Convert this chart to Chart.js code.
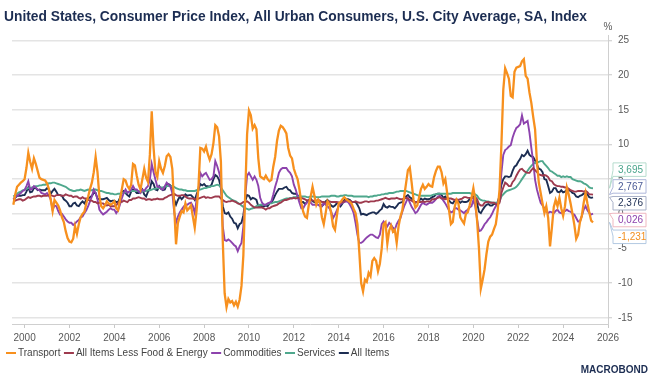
<!DOCTYPE html>
<html><head><meta charset="utf-8">
<script src="https://cdn.jsdelivr.net/npm/chart.js@4.4.1/dist/chart.umd.min.js"></script>
<style>html,body{margin:0;padding:0;background:#fff}canvas{display:block}</style>
</head><body>
<canvas id="c" width="652" height="381"></canvas>
<script>
// ---- data (monthly, year-on-year %, starting Jul 1999) ----
const startYear = 1999, startMonth = 7;
const seriesNames = ["Transport", "All Items Less Food & Energy", "Commodities", "Services", "All Items"];
const transport = [
 1.3, 2.8, 3.9, 4.2, 4.5, 4.7,
 5.0, 6.6, 8.8, 7.5, 6.5, 8.0, 7.2, 6.2, 5.2, 5.0, 4.9, 4.8,
 4.4, 3.6, 2.0, 0.4, 2.0, 1.6, 1.2, 0.5, -0.5, -1.2, -2.5, -3.5,
 -4.0, -4.1, -3.6, -1.8, -2.9, -1.5, -0.5, 0.0, 0.3, 1.5, 2.5, 3.6,
 4.5, 6.0, 8.2, 6.0, 2.5, 1.1, 0.8, 1.2, 1.8, 1.5, 1.3, 1.5,
 1.8, 0.8, 0.5, 2.0, 3.5, 5.0, 4.8, 4.0, 3.6, 4.2, 7.2, 7.0,
 5.5, 4.2, 3.5, 5.0, 6.5, 5.2, 4.6, 8.5, 14.8, 9.5, 6.0, 5.3,
 7.6, 6.5, 5.9, 6.9, 8.3, 8.6, 8.2, 6.5, 1.0, -4.4, -1.3, -0.4,
 0.4, 0.2, 1.5, 0.5, 0.8, 1.2, -0.4, -2.0, 0.5, 4.0, 9.5, 9.4,
 9.0, 9.7, 8.6, 7.8, 8.6, 10.2, 12.8, 12.5, 11.2, 7.5, -4.0, -11.5,
 -13.5, -12.3, -12.8, -12.6, -13.2, -12.7, -13.4, -12.4, -10.4, -6.0, 3.0, 11.5,
 14.9, 14.2, 12.3, 12.8, 12.2, 8.0, 5.4, 5.2, 5.0, 5.5, 5.0, 4.7,
 4.9, 6.8, 8.2, 10.5, 12.0, 12.7, 12.5, 12.1, 11.6, 9.5, 8.4, 8.0,
 6.5, 5.7, 5.0, 3.5, 1.6, 0.3, -0.4, -0.6, 1.3, 2.5, 3.9, 2.6,
 1.3, 2.0, 1.6, -0.5, -1.5, 0.1, 1.8, 1.4, 0.0, -1.8, -2.3, -0.3,
 1.5, 1.7, 2.1, 2.4, 2.1, 1.9, 1.7, 1.4, 0.7, 0.1, -1.5, -5.5,
 -10.0, -11.2, -9.5, -9.8, -8.5, -9.0, -6.8, -6.4, -6.8, -8.3, -7.2, -5.0,
 -1.5, -1.2, -4.3, -2.4, -1.7, -2.6, -2.3, -4.2, -1.8, -0.4, 0.5, 2.5,
 4.4, 6.3, 6.7, 4.5, 2.0, 0.9, 1.2, 2.4, 3.6, 4.2, 3.6, 3.9,
 4.3, 4.0, 3.9, 5.3, 6.2, 6.8, 6.8, 6.0, 4.4, 5.0, 3.0, 0.5,
 -1.5, -1.2, 1.0, 2.0, 1.5, -0.5, -1.0, -1.4, 0.0, 0.2, 1.2, 2.3,
 3.7, 2.0, -1.0, -5.0, -10.8, -9.5, -8.0, -5.8, -4.0, -3.3, -3.0, -2.2,
 -1.5, 0.5, 3.5, 10.0, 17.9, 21.0, 20.3, 19.5, 17.0, 16.8, 20.5, 21.1,
 21.2, 21.3, 22.0, 22.3, 19.9, 19.5, 17.5, 16.0, 14.0, 12.2, 7.5, 4.5,
 3.0, 1.5, 0.1, 1.1, -0.6, -4.7, -2.0, 1.0, 2.0, 1.1, 2.3, 0.8,
 -0.3, 1.1, 3.8, 2.8, 1.5, 0.0, -1.6, -3.6, -3.0, -1.2, -0.3, 1.6,
 3.0, 1.5, 0.2, -1.0, -1.231
];
const coreItems = [
 2.1, 1.9, 2.0, 2.1, 2.1, 1.9,
 2.0, 2.2, 2.4, 2.3, 2.4, 2.5, 2.5, 2.6, 2.6, 2.5, 2.6, 2.6,
 2.6, 2.7, 2.7, 2.6, 2.5, 2.7, 2.7, 2.7, 2.6, 2.6, 2.8, 2.7,
 2.6, 2.6, 2.4, 2.5, 2.5, 2.3, 2.2, 2.4, 2.2, 2.2, 2.0, 1.9,
 1.9, 1.7, 1.7, 1.5, 1.6, 1.5, 1.5, 1.3, 1.2, 1.3, 1.1, 1.1,
 1.1, 1.2, 1.6, 1.8, 1.7, 1.9, 1.8, 1.7, 2.0, 2.0, 2.2, 2.2,
 2.3, 2.4, 2.3, 2.2, 2.2, 2.0, 2.1, 2.1, 2.0, 2.1, 2.1, 2.2,
 2.1, 2.1, 2.1, 2.3, 2.4, 2.6, 2.7, 2.8, 2.9, 2.7, 2.6, 2.6,
 2.7, 2.7, 2.5, 2.3, 2.2, 2.2, 2.2, 2.1, 2.1, 2.2, 2.3, 2.4,
 2.5, 2.3, 2.4, 2.3, 2.3, 2.4, 2.5, 2.5, 2.5, 2.2, 2.0, 1.8,
 1.7, 1.8, 1.8, 1.9, 1.8, 1.7, 1.5, 1.4, 1.5, 1.7, 1.7, 1.8,
 1.6, 1.3, 1.1, 0.9, 0.9, 0.9, 0.9, 0.9, 0.8, 0.6, 0.8, 0.8,
 1.0, 1.1, 1.2, 1.3, 1.5, 1.6, 1.8, 2.0, 2.0, 2.1, 2.2, 2.2,
 2.3, 2.2, 2.3, 2.3, 2.3, 2.2, 2.1, 1.9, 2.0, 2.0, 1.9, 1.9,
 1.9, 2.0, 1.9, 1.7, 1.7, 1.6, 1.7, 1.8, 1.7, 1.7, 1.7, 1.7,
 1.6, 1.6, 1.7, 1.8, 2.0, 1.9, 1.9, 1.7, 1.7, 1.8, 1.7, 1.6,
 1.6, 1.7, 1.8, 1.8, 1.7, 1.8, 1.8, 1.8, 1.9, 1.9, 2.0, 2.1,
 2.2, 2.3, 2.2, 2.1, 2.2, 2.2, 2.2, 2.3, 2.2, 2.1, 2.1, 2.2,
 2.3, 2.2, 2.0, 1.9, 1.7, 1.7, 1.7, 1.7, 1.7, 1.8, 1.7, 1.8,
 1.8, 1.8, 2.1, 2.1, 2.2, 2.3, 2.4, 2.2, 2.2, 2.1, 2.2, 2.2,
 2.2, 2.1, 2.0, 2.1, 2.0, 2.1, 2.2, 2.4, 2.4, 2.3, 2.3, 2.3,
 2.3, 2.4, 2.1, 1.4, 1.2, 1.2, 1.6, 1.7, 1.7, 1.6, 1.6, 1.6,
 1.4, 1.3, 1.6, 3.0, 3.8, 4.5, 4.3, 4.0, 4.0, 4.6, 4.9, 5.5,
 6.0, 6.4, 6.5, 6.2, 6.0, 5.9, 5.9, 6.3, 6.6, 6.3, 6.0, 5.7,
 5.6, 5.5, 5.6, 5.5, 5.3, 4.8, 4.7, 4.3, 4.1, 4.0, 4.0, 3.9,
 3.9, 3.8, 3.8, 3.6, 3.4, 3.3, 3.2, 3.2, 3.3, 3.3, 3.3, 3.2,
 3.3, 3.1, 2.8, 2.8, 2.767
];
const commodities = [
 2.1, 2.4, 2.6, 2.8, 3.0, 3.3,
 3.4, 4.0, 4.7, 3.5, 3.6, 4.0, 3.8, 3.5, 3.4, 3.0, 2.9, 2.8,
 3.0, 2.6, 2.1, 0.6, 1.2, 1.1, 0.4, -0.1, 0.0, -0.4, -0.8, -1.1,
 -1.3, -1.3, -1.6, -1.4, -1.1, -0.9, -0.5, -0.4, 0.1, 0.5, 1.1, 1.8,
 2.5, 3.5, 3.0, 2.1, 0.6, 0.2, -0.1, 0.1, 0.3, 0.6, 0.8, 0.6,
 0.6, 0.1, 0.5, 1.3, 2.2, 3.0, 3.5, 3.0, 3.2, 3.5, 4.0, 3.5,
 3.5, 3.2, 3.0, 3.5, 3.3, 3.7, 4.0, 4.9, 7.2, 6.0, 4.9, 3.9,
 3.9, 3.6, 3.5, 4.0, 4.5, 4.2, 3.9, 3.0, 0.3, -1.3, -0.4, 0.2,
 0.6, 1.0, 1.3, 1.3, 1.5, 1.6, 1.1, 0.1, 2.0, 3.5, 5.9, 5.4,
 5.7, 5.9, 5.4, 4.9, 5.0, 5.4, 7.6, 6.9, 6.0, 4.9, -1.8, -3.8,
 -3.9, -3.7, -3.9, -4.2, -4.5, -4.7, -5.4, -4.7, -4.2, -1.8, 2.5, 5.5,
 5.9, 5.4, 4.9, 5.4, 4.9, 4.0, 2.3, 1.6, 1.3, 1.3, 1.5, 1.6,
 1.8, 2.8, 3.9, 4.8, 5.9, 6.4, 6.6, 6.6, 6.6, 6.2, 5.9, 5.4,
 4.2, 3.5, 2.5, 1.6, 0.8, 0.8, 1.3, 1.6, 2.0, 1.6, 1.3, 1.3,
 1.3, 1.3, 1.1, 1.1, 1.6, 1.3, 1.1, 0.8, 0.3, -0.6, -0.1, 0.5,
 1.1, 1.4, 1.6, 1.7, 1.8, 1.7, 1.3, 0.8, 0.1, -1.3, -3.0, -4.2,
 -4.2, -4.0, -3.7, -3.4, -3.2, -3.0, -3.0, -3.2, -3.4, -3.5, -3.0, -1.5,
 -1.1, -1.5, -1.8, -1.3, -1.6, -2.0, -2.3, -1.5, -1.0, -0.6, 0.3, 1.1,
 1.7, 2.3, 1.6, 1.0, 0.6, 0.1, 0.3, 0.8, 1.3, 1.6, 1.4, 1.3,
 1.5, 1.6, 1.6, 1.8, 2.1, 2.5, 2.6, 2.3, 1.9, 1.5, 1.0, 0.5,
 0.2, 0.3, 0.8, 0.8, 0.6, 0.5, 0.3, 0.1, 0.4, 0.6, 0.9, 1.1,
 2.0, 1.1, -0.8, -2.5, -2.4, -2.0, -1.5, -1.2, -0.8, -0.5, 0.0, 0.6,
 1.1, 1.6, 2.1, 5.9, 8.5, 9.2, 9.4, 9.7, 9.9, 11.0, 11.8, 12.4,
 12.6, 12.9, 14.2, 13.0, 13.2, 13.4, 11.7, 9.5, 7.5, 4.9, 3.5, 2.5,
 1.6, 1.2, 0.8, 0.3, 0.1, 0.3, 0.2, 0.1, 0.4, 0.6, 0.2, 0.1,
 0.3, 0.4, 0.6, 0.4, 0.3, 0.0, -0.1, -0.6, -1.1, -1.1, -0.3, 0.6,
 1.1, 0.5, 0.1, -0.1, 0.026
];
const services = [
 2.5, 2.7, 2.9, 3.1, 3.2, 3.4,
 3.5, 3.6, 3.7, 3.7, 3.8, 3.9, 4.0, 4.0, 4.1, 4.1, 4.2, 4.2,
 4.3, 4.4, 4.4, 4.5, 4.5, 4.4, 4.3, 4.2, 4.1, 4.0, 3.9, 3.7,
 3.5, 3.4, 3.3, 3.3, 3.4, 3.4, 3.5, 3.4, 3.3, 3.4, 3.5, 3.4,
 3.4, 3.5, 3.5, 3.4, 3.3, 3.3, 3.2, 3.1, 3.0, 3.0, 2.9, 2.9,
 2.8, 2.8, 2.9, 2.9, 3.0, 3.0, 3.1, 3.1, 3.2, 3.3, 3.3, 3.3,
 3.3, 3.3, 3.2, 3.2, 3.3, 3.3, 3.4, 3.4, 3.5, 3.6, 3.6, 3.7,
 3.7, 3.8, 3.8, 3.9, 4.0, 4.0, 4.0, 4.0, 3.9, 3.7, 3.6, 3.5,
 3.5, 3.4, 3.4, 3.3, 3.3, 3.3, 3.3, 3.3, 3.4, 3.5, 3.5, 3.6,
 3.7, 3.7, 3.8, 3.9, 4.0, 4.0, 4.1, 4.2, 4.1, 3.8, 3.4, 3.0,
 2.6, 2.4, 2.2, 2.0, 1.9, 1.8, 1.6, 1.4, 1.2, 1.0, 0.8, 0.7,
 0.6, 0.7, 0.8, 0.9, 1.1, 1.2, 1.3, 1.3, 1.3, 1.3, 1.4, 1.5,
 1.5, 1.6, 1.7, 1.7, 1.8, 1.9, 2.0, 2.1, 2.2, 2.2, 2.3, 2.3,
 2.4, 2.4, 2.5, 2.5, 2.5, 2.5, 2.5, 2.4, 2.4, 2.5, 2.5, 2.5,
 2.4, 2.4, 2.4, 2.5, 2.5, 2.5, 2.5, 2.5, 2.6, 2.6, 2.6, 2.5,
 2.5, 2.6, 2.6, 2.7, 2.7, 2.6, 2.6, 2.6, 2.5, 2.5, 2.5, 2.5,
 2.5, 2.5, 2.5, 2.5, 2.4, 2.5, 2.5, 2.6, 2.6, 2.7, 2.7, 2.8,
 2.8, 2.9, 2.9, 3.0, 3.0, 3.0, 3.1, 3.2, 3.2, 3.3, 3.3, 3.3,
 3.3, 3.2, 3.1, 3.0, 2.9, 2.8, 2.7, 2.6, 2.6, 2.6, 2.6, 2.6,
 2.6, 2.6, 2.7, 2.8, 2.8, 2.9, 2.9, 2.9, 2.9, 2.9, 2.9, 2.9,
 2.9, 3.0, 3.0, 3.0, 3.0, 3.0, 3.0, 3.0, 3.0, 3.0, 3.0, 2.9,
 2.9, 2.8, 2.6, 2.2, 2.0, 1.9, 1.9, 1.8, 1.8, 1.7, 1.6, 1.6,
 1.6, 1.6, 1.8, 2.5, 2.8, 3.1, 3.3, 3.4, 3.5, 3.6, 3.7, 3.9,
 4.2, 4.6, 5.0, 5.4, 5.8, 6.2, 6.6, 6.9, 7.2, 7.4, 7.4, 7.5,
 7.6, 7.6, 7.2, 6.9, 6.6, 6.2, 6.1, 5.9, 5.7, 5.5, 5.5, 5.3,
 5.4, 5.3, 5.4, 5.3, 5.3, 5.0, 4.9, 4.8, 4.7, 4.7, 4.6, 4.4,
 4.3, 4.1, 3.8, 3.7, 3.695
];
const allItems = [
 2.1, 2.3, 2.6, 2.6, 2.6, 2.7,
 2.7, 3.2, 3.8, 3.1, 3.2, 3.7, 3.7, 3.4, 3.5, 3.4, 3.4, 3.4,
 3.7, 3.5, 2.9, 3.3, 3.6, 3.2, 2.7, 2.7, 2.6, 2.1, 1.9, 1.6,
 1.1, 1.1, 1.5, 1.6, 1.2, 1.1, 1.5, 1.8, 1.5, 2.0, 2.2, 2.4,
 2.6, 3.0, 3.0, 2.2, 2.1, 2.1, 2.1, 2.2, 2.3, 2.0, 1.8, 1.9,
 1.9, 1.7, 1.7, 2.3, 3.1, 3.3, 3.0, 2.7, 2.5, 3.2, 3.5, 3.3,
 3.0, 3.0, 3.1, 3.5, 2.8, 2.5, 3.2, 3.6, 4.7, 4.3, 3.5, 3.4,
 4.0, 3.6, 3.4, 3.5, 4.2, 4.3, 4.1, 3.8, 2.1, 1.3, 2.0, 2.5,
 2.1, 2.4, 2.8, 2.6, 2.7, 2.7, 2.4, 2.0, 2.8, 3.5, 4.3, 4.1,
 4.3, 4.0, 4.0, 3.9, 4.2, 5.0, 5.6, 5.4, 4.9, 3.7, 1.1, 0.1,
 0.0, 0.2, -0.4, -0.7, -1.3, -1.4, -2.1, -1.5, -1.3, -0.2, 1.8, 2.7,
 2.6, 2.1, 2.3, 2.2, 2.0, 1.1, 1.2, 1.1, 1.1, 1.2, 1.1, 1.5,
 1.6, 2.1, 2.7, 3.2, 3.6, 3.6, 3.6, 3.8, 3.9, 3.5, 3.4, 3.0,
 2.9, 2.9, 2.7, 2.3, 1.7, 1.7, 1.4, 1.7, 2.0, 2.2, 1.8, 1.7,
 1.6, 2.0, 1.5, 1.1, 1.4, 1.8, 2.0, 1.5, 1.2, 1.0, 1.2, 1.5,
 1.6, 1.1, 1.5, 2.0, 2.1, 2.1, 2.0, 1.7, 1.7, 1.7, 1.3, 0.8,
 -0.1, 0.0, -0.1, -0.2, 0.0, 0.1, 0.2, 0.2, 0.0, 0.2, 0.5, 0.7,
 1.4, 1.0, 0.9, 1.1, 1.0, 1.0, 0.8, 1.1, 1.5, 1.6, 1.7, 2.1,
 2.5, 2.7, 2.4, 2.2, 1.9, 1.6, 1.7, 1.9, 2.2, 2.0, 2.2, 2.1,
 2.1, 2.2, 2.4, 2.5, 2.8, 2.9, 2.9, 2.7, 2.3, 2.5, 2.2, 1.9,
 1.6, 1.5, 1.9, 2.0, 1.8, 1.6, 1.8, 1.7, 1.7, 1.8, 2.1, 2.3,
 2.5, 2.3, 1.5, 0.3, 0.1, 0.6, 1.0, 1.3, 1.4, 1.2, 1.2, 1.4,
 1.4, 1.7, 2.6, 4.2, 5.0, 5.4, 5.4, 5.3, 5.4, 6.2, 6.8, 7.0,
 7.5, 7.9, 8.5, 8.3, 8.6, 9.1, 8.5, 8.3, 8.2, 7.7, 7.1, 6.5,
 6.4, 6.0, 5.0, 4.9, 4.0, 3.0, 3.2, 3.7, 3.7, 3.2, 3.1, 3.4,
 3.1, 3.2, 3.5, 3.4, 3.3, 3.0, 2.9, 2.5, 2.4, 2.6, 2.7, 2.9,
 3.0, 2.8, 2.4, 2.3, 2.376
];
const xTickLabels = [2000, 2002, 2004, 2006, 2008, 2010, 2012, 2014, 2016, 2018, 2020, 2022, 2024, 2026];
const yTickLabels = [-15, -10, -5, 0, 5, 10, 15, 20, 25];
const titleText = "United States, Consumer Price Index, All Urban Consumers, U.S. City Average, SA, Index";

// ---- styling ----
const FONT = '"Liberation Sans", Arial, Helvetica, sans-serif';
const lineColors = ['#f7901e', '#9e3a4e', '#8d43ad', '#4fa88d', '#1c2d52'];
const lineWidths = [2.3, 1.9, 1.9, 1.9, 1.9];
const boxStyles = { // border, text
  'Transport': ['#b3c9e2', '#f28e1e'],
  'All Items Less Food & Energy': ['#aeb7da', '#4a5a96'],
  'Commodities': ['#efb7c0', '#8d43ad'],
  'Services': ['#b6dccd', '#4aa58b'],
  'All Items': ['#a9b1c8', '#1c2d52']
};
const seriesValues = [transport, coreItems, commodities, services, allItems];

function toPoints(arr) {
  return arr.map((v, i) => ({ x: startYear + (startMonth - 1 + i) / 12, y: v }));
}

const overlay = {
  id: 'overlay',
  afterDraw(chart) {
    const ctx = chart.ctx;
    const ys = chart.scales.y;
    const area = chart.chartArea;
    ctx.save();
    // title
    let size = 14;
    ctx.font = `bold ${size}px ${FONT}`;
    const tw = ctx.measureText(titleText).width;
    size = Math.min(15, size * 583 / tw);
    ctx.font = `bold ${size.toFixed(2)}px ${FONT}`;
    ctx.fillStyle = '#1c2d52';
    ctx.textBaseline = 'alphabetic';
    ctx.textAlign = 'left';
    ctx.fillText(titleText, 4, 21);
    // percent sign
    ctx.font = `10px ${FONT}`;
    ctx.fillStyle = '#595959';
    ctx.textAlign = 'center';
    ctx.textBaseline = 'middle';
    ctx.fillText('%', area.right, 27);
    // legend
    let x = 6;
    const ly = 353;
    ctx.textAlign = 'left';
    ctx.font = `10px ${FONT}`;
    seriesNames.forEach((name, i) => {
      ctx.strokeStyle = lineColors[i];
      ctx.lineWidth = 2;
      ctx.beginPath(); ctx.moveTo(x, ly); ctx.lineTo(x + 10, ly); ctx.stroke();
      x += 12;
      ctx.fillStyle = '#444';
      ctx.fillText(name, x, ly);
      x += ctx.measureText(name).width + 3.5;
    });
    // value boxes
    const items = seriesNames.map((name, i) => {
      const arr = seriesValues[i];
      const v = arr[arr.length - 1];
      return { name, v, py: ys.getPixelForValue(v) };
    }).sort((a, b) => a.py - b.py);
    const gap = 16.8, bh = 13.5;
    const pos = [];
    items.forEach((it, k) => { pos[k] = k === 0 ? it.py : Math.max(it.py, pos[k - 1] + gap); });
    const meanT = items.reduce((s, it) => s + it.py, 0) / items.length;
    const meanP = pos.reduce((s, p) => s + p, 0) / pos.length;
    const shift = meanT - meanP;
    const bl = area.right + 5, br = 646, tipX = area.right + 1.5;
    items.forEach((it, k) => {
      const cy = pos[k] + shift;
      const top = cy - bh / 2, bot = cy + bh / 2;
      const [bc, tc] = boxStyles[it.name];
      let n1, n2;
      if (it.py < top + 3) { n1 = top; n2 = top + 6; }
      else if (it.py > bot - 3) { n1 = bot - 6; n2 = bot; }
      else { n1 = it.py - 3; n2 = it.py + 3; }
      ctx.beginPath();
      ctx.moveTo(bl, top);
      ctx.lineTo(br, top);
      ctx.lineTo(br, bot);
      ctx.lineTo(bl, bot);
      ctx.lineTo(bl, n2);
      ctx.lineTo(tipX, it.py);
      ctx.lineTo(bl, n1);
      ctx.closePath();
      ctx.fillStyle = '#ffffff';
      ctx.fill();
      ctx.strokeStyle = bc;
      ctx.lineWidth = 1;
      ctx.stroke();
      ctx.fillStyle = tc;
      ctx.font = `10px ${FONT}`;
      ctx.textAlign = 'left';
      ctx.textBaseline = 'middle';
      ctx.fillText(it.v.toFixed(3).replace('.', ','), bl + 5, cy + 0.5);
    });
    // logo
    ctx.fillStyle = '#1c2d52';
    ctx.font = `bold 10px ${FONT}`;
    ctx.textAlign = 'right';
    ctx.textBaseline = 'middle';
    ctx.fillText('MACROBOND', 648, 370);
    ctx.restore();
  }
};

new Chart(document.getElementById('c'), {
  type: 'line',
  data: {
    datasets: seriesNames.map((name, i) => ({
      label: name,
      data: toPoints(seriesValues[i]),
      borderColor: lineColors[i],
      backgroundColor: lineColors[i],
      borderWidth: lineWidths[i],
      pointRadius: 0,
      tension: 0,
      fill: false
    }))
  },
  options: {
    responsive: false,
    animation: false,
    devicePixelRatio: 1,
    events: [],
    parsing: true,
    layout: { padding: { top: 35, left: 12, right: 0, bottom: 0 } },
    plugins: { legend: { display: false }, title: { display: false }, tooltip: { enabled: false } },
    scales: {
      x: {
        type: 'linear',
        min: 1999.44,
        max: 2026,
        afterBuildTicks: s => { s.ticks = xTickLabels.map(v => ({ value: v })); },
        afterFit: s => { s.height = 57; },
        grid: { drawOnChartArea: false, drawTicks: true, tickLength: 4, color: '#c8c8c8' },
        border: { display: true, color: '#cfcfcf', width: 1 },
        ticks: { autoSkip: false, maxRotation: 0, padding: 4, color: '#595959', font: { family: FONT, size: 10 }, callback: v => String(v) }
      },
      y: {
        position: 'right',
        min: -15.9,
        max: 25.8,
        afterBuildTicks: s => { s.ticks = yTickLabels.map(v => ({ value: v })); },
        afterFit: s => { s.width = 44; },
        grid: { color: '#e4e4e4', lineWidth: 1.5, drawTicks: true, tickLength: 4, tickColor: '#c8c8c8', tickWidth: 1 },
        border: { display: true, color: '#cfcfcf', width: 1 },
        ticks: { padding: 6, color: '#595959', font: { family: FONT, size: 10 }, callback: v => String(v) }
      }
    }
  },
  plugins: [overlay]
});
</script>
</body></html>
